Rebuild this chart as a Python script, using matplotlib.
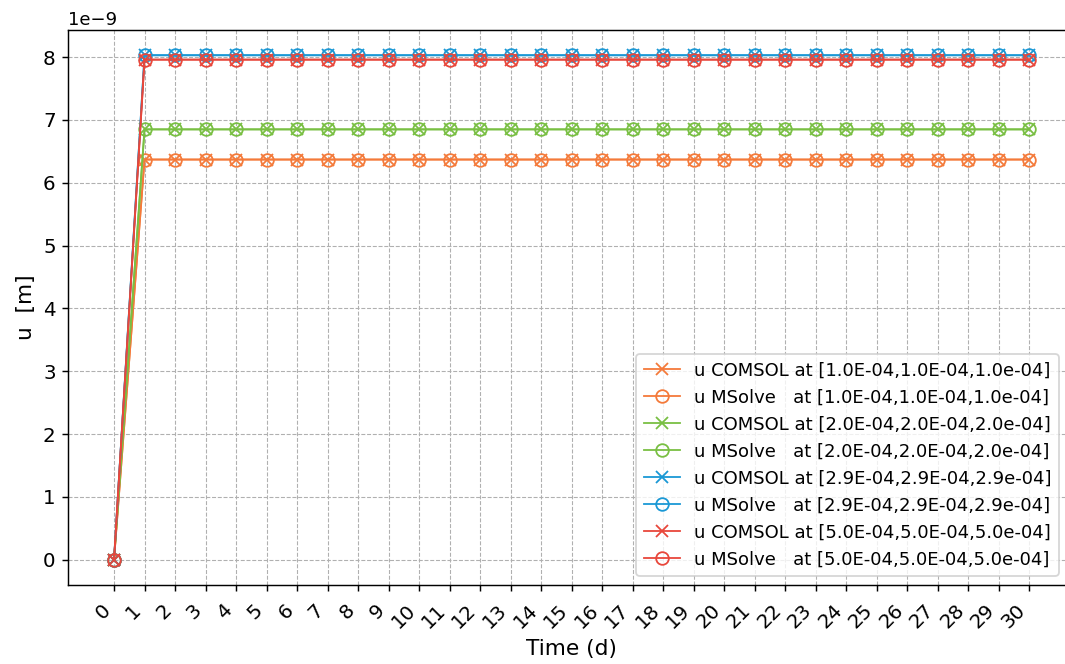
import numpy as np
import matplotlib.pyplot as plt

time_d = list(range(31))

u_comsol_1 = [0.0, 6.37e-9, 6.37e-9, 6.37e-9, 6.37e-9, 6.37e-9, 6.37e-9, 6.37e-9, 6.37e-9, 6.37e-9, 6.37e-9,
              6.37e-9, 6.37e-9, 6.37e-9, 6.37e-9, 6.37e-9, 6.37e-9, 6.37e-9, 6.37e-9, 6.37e-9, 6.37e-9,
              6.37e-9, 6.37e-9, 6.37e-9, 6.37e-9, 6.37e-9, 6.37e-9, 6.37e-9, 6.37e-9, 6.37e-9, 6.37e-9]
u_msolve_1 = [0.0, 6.37e-9, 6.37e-9, 6.37e-9, 6.37e-9, 6.37e-9, 6.37e-9, 6.37e-9, 6.37e-9, 6.37e-9, 6.37e-9,
              6.37e-9, 6.37e-9, 6.37e-9, 6.37e-9, 6.37e-9, 6.37e-9, 6.37e-9, 6.37e-9, 6.37e-9, 6.37e-9,
              6.37e-9, 6.37e-9, 6.37e-9, 6.37e-9, 6.37e-9, 6.37e-9, 6.37e-9, 6.37e-9, 6.37e-9, 6.37e-9]
u_comsol_2 = [0.0, 6.85e-9, 6.85e-9, 6.85e-9, 6.85e-9, 6.85e-9, 6.85e-9, 6.85e-9, 6.85e-9, 6.85e-9, 6.85e-9,
              6.85e-9, 6.85e-9, 6.85e-9, 6.85e-9, 6.85e-9, 6.85e-9, 6.85e-9, 6.85e-9, 6.85e-9, 6.85e-9,
              6.85e-9, 6.85e-9, 6.85e-9, 6.85e-9, 6.85e-9, 6.85e-9, 6.85e-9, 6.85e-9, 6.85e-9, 6.85e-9]
u_msolve_2 = [0.0, 6.85e-9, 6.85e-9, 6.85e-9, 6.85e-9, 6.85e-9, 6.85e-9, 6.85e-9, 6.85e-9, 6.85e-9, 6.85e-9,
              6.85e-9, 6.85e-9, 6.85e-9, 6.85e-9, 6.85e-9, 6.85e-9, 6.85e-9, 6.85e-9, 6.85e-9, 6.85e-9,
              6.85e-9, 6.85e-9, 6.85e-9, 6.85e-9, 6.85e-9, 6.85e-9, 6.85e-9, 6.85e-9, 6.85e-9, 6.85e-9]
u_comsol_3 = [0.0, 8.03e-9, 8.03e-9, 8.03e-9, 8.03e-9, 8.03e-9, 8.03e-9, 8.03e-9, 8.03e-9, 8.03e-9, 8.03e-9,
              8.03e-9, 8.03e-9, 8.03e-9, 8.03e-9, 8.03e-9, 8.03e-9, 8.03e-9, 8.03e-9, 8.03e-9, 8.03e-9,
              8.03e-9, 8.03e-9, 8.03e-9, 8.03e-9, 8.03e-9, 8.03e-9, 8.03e-9, 8.03e-9, 8.03e-9, 8.03e-9]
u_msolve_3 = [0.0, 8.03e-9, 8.03e-9, 8.03e-9, 8.03e-9, 8.03e-9, 8.03e-9, 8.03e-9, 8.03e-9, 8.03e-9, 8.03e-9,
              8.03e-9, 8.03e-9, 8.03e-9, 8.03e-9, 8.03e-9, 8.03e-9, 8.03e-9, 8.03e-9, 8.03e-9, 8.03e-9,
              8.03e-9, 8.03e-9, 8.03e-9, 8.03e-9, 8.03e-9, 8.03e-9, 8.03e-9, 8.03e-9, 8.03e-9, 8.03e-9]
u_comsol_4 = [0.0, 7.96e-9, 7.96e-9, 7.96e-9, 7.96e-9, 7.96e-9, 7.96e-9, 7.96e-9, 7.96e-9, 7.96e-9, 7.96e-9,
              7.96e-9, 7.96e-9, 7.96e-9, 7.96e-9, 7.96e-9, 7.96e-9, 7.96e-9, 7.96e-9, 7.96e-9, 7.96e-9,
              7.96e-9, 7.96e-9, 7.96e-9, 7.96e-9, 7.96e-9, 7.96e-9, 7.96e-9, 7.96e-9, 7.96e-9, 7.96e-9]
u_msolve_4 = [0.0, 7.96e-9, 7.96e-9, 7.96e-9, 7.96e-9, 7.96e-9, 7.96e-9, 7.96e-9, 7.96e-9, 7.96e-9, 7.96e-9,
              7.96e-9, 7.96e-9, 7.96e-9, 7.96e-9, 7.96e-9, 7.96e-9, 7.96e-9, 7.96e-9, 7.96e-9, 7.96e-9,
              7.96e-9, 7.96e-9, 7.96e-9, 7.96e-9, 7.96e-9, 7.96e-9, 7.96e-9, 7.96e-9, 7.96e-9, 7.96e-9]

points = ["1.0E-04,1.0E-04,1.0e-04", "2.0E-04,2.0E-04,2.0e-04",
          "2.9E-04,2.9E-04,2.9e-04", "5.0E-04,5.0E-04,5.0e-04"]
colors = ['#f47a3a', '#79bf43', '#1a98d5', '#e8473b']
comsol = [u_comsol_1, u_comsol_2, u_comsol_3, u_comsol_4]
msolve = [u_msolve_1, u_msolve_2, u_msolve_3, u_msolve_4]

DPI = 130
fig, ax = plt.subplots(figsize=(1065 / DPI, 664 / DPI), dpi=DPI)

for p, c, uc, um in zip(points, colors, comsol, msolve):
    ax.plot(time_d, uc, marker='x', color=c, markersize=7, lw=1.0,
            label='u COMSOL at [' + p + ']')
    ax.plot(time_d, um, marker='o', color=c, markersize=7, lw=1.0, fillstyle='none',
            label='u MSolve   at [' + p + ']')

ax.set_xticks(time_d)
ax.set_xticklabels([str(t) for t in time_d], rotation=45, ha='right', fontsize=11)
ax.tick_params(axis='y', labelsize=11)
ax.tick_params(axis='x', pad=5)
ax.set_xlabel('Time (d)', fontsize=12)
ax.set_ylabel('u  [m]', fontsize=12)
ax.grid(True, linestyle='--', color='#b0b0b0', lw=0.6)

# the original is cropped on the right: axes run past the figure edge
fig.subplots_adjust(left=0.0641, right=1.0094, top=0.9548, bottom=0.119)
ax.legend(loc='lower right', bbox_to_anchor=(0.993, 0.0))

fig.savefig('out.png', dpi=DPI)
